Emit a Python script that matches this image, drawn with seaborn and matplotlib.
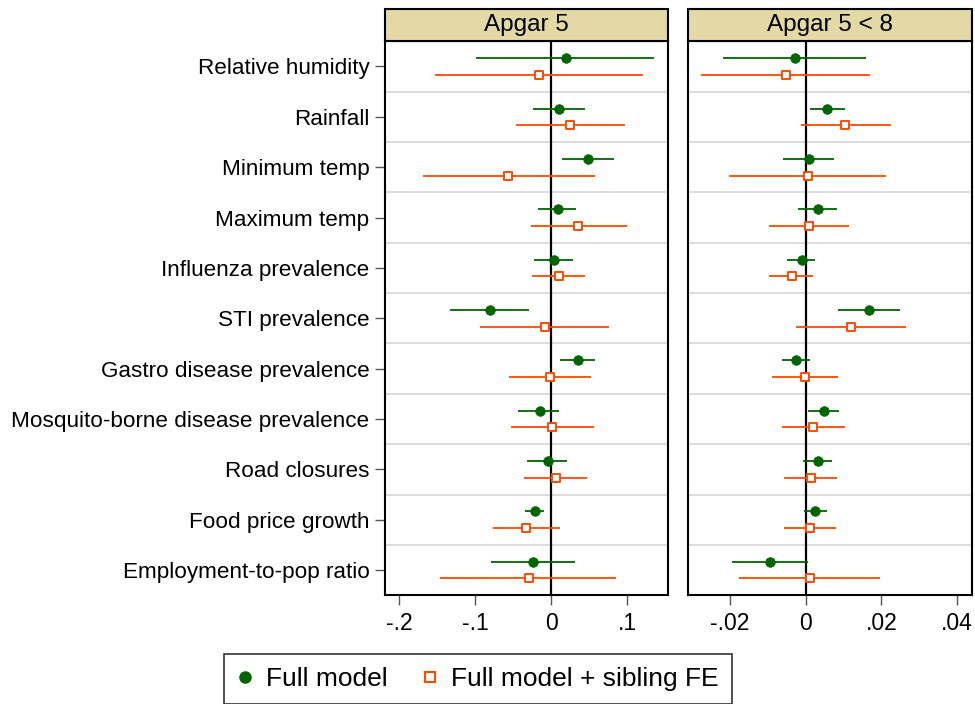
import numpy as np
import pandas as pd
import matplotlib
matplotlib.use("Agg")
import matplotlib.pyplot as plt
import seaborn as sns
from matplotlib.patches import Rectangle
from matplotlib.lines import Line2D

variables = ["Relative humidity", "Rainfall", "Minimum temp", "Maximum temp",
             "Influenza prevalence", "STI prevalence", "Gastro disease prevalence",
             "Mosquito-borne disease prevalence", "Road closures", "Food price growth",
             "Employment-to-pop ratio"]
models = ["Full model", "Full model + sibling FE"]
panels = ["Apgar 5", "Apgar 5 < 8"]

# Apgar 5
a5_full_est = [0.019, 0.0105, 0.0487, 0.0084, 0.0031, -0.080, 0.0347, -0.0153, -0.0048, -0.0219, -0.0237]
a5_full_lo = [-0.099, -0.0245, 0.0137, -0.0175, -0.0223, -0.1337, 0.011, -0.0434, -0.0316, -0.035, -0.0793]
a5_full_hi = [0.135, 0.044, 0.0825, 0.032, 0.0285, -0.0298, 0.057, 0.0097, 0.0202, -0.0096, 0.0307]
a5_sib_est = [-0.016, 0.025, -0.057, 0.0355, 0.0097, -0.0083, -0.0022, 0.0013, 0.0066, -0.0333, -0.0293]
a5_sib_lo = [-0.153, -0.046, -0.169, -0.0267, -0.0258, -0.0934, -0.0553, -0.0526, -0.0364, -0.0763, -0.1468]
a5_sib_hi = [0.120, 0.0966, 0.0575, 0.0996, 0.044, 0.0759, 0.0522, 0.0558, 0.0474, 0.011, 0.0855]

# Apgar 5 < 8
lo8_full_est = [-0.0028, 0.0056, 0.0008, 0.0033, -0.0010, 0.0168, -0.0025, 0.0048, 0.0033, 0.0026, -0.0094]
lo8_full_lo = [-0.0219, 0.0011, -0.0061, -0.0020, -0.0049, 0.0085, -0.0063, 0.0007, -0.0006, -0.0004, -0.0195]
lo8_full_hi = [0.0159, 0.0103, 0.0075, 0.0082, 0.0026, 0.0250, 0.0012, 0.0089, 0.0070, 0.0056, 0.0005]
lo8_sib_est = [-0.0053, 0.0105, 0.0005, 0.0008, -0.0037, 0.0120, -0.0002, 0.0019, 0.0015, 0.0012, 0.0012]
lo8_sib_lo = [-0.0276, -0.0013, -0.0202, -0.0097, -0.0097, -0.0026, -0.0088, -0.0063, -0.0056, -0.0058, -0.0175]
lo8_sib_hi = [0.0169, 0.0225, 0.0212, 0.0114, 0.0019, 0.0264, 0.0086, 0.0105, 0.0084, 0.0081, 0.0196]

a5_ticks = [-0.2, -0.1, 0.0, 0.1]
a5_ticklabels = ["-.2", "-.1", "0", ".1"]
lo8_ticks = [-0.02, 0.0, 0.02, 0.04]
lo8_ticklabels = ["-.02", "0", ".02", ".04"]

GREEN = "#006400"
ORANGE = "#FF4A00"
STRIP = "#E3D9A4"

rows = []
series = {
    ("Apgar 5", "Full model"): (a5_full_est, a5_full_lo, a5_full_hi),
    ("Apgar 5", "Full model + sibling FE"): (a5_sib_est, a5_sib_lo, a5_sib_hi),
    ("Apgar 5 < 8", "Full model"): (lo8_full_est, lo8_full_lo, lo8_full_hi),
    ("Apgar 5 < 8", "Full model + sibling FE"): (lo8_sib_est, lo8_sib_lo, lo8_sib_hi),
}
offsets = {"Full model": -0.165, "Full model + sibling FE": 0.165}
for (panel, model), (est, lo, hi) in series.items():
    for i, v in enumerate(variables):
        rows.append(dict(panel=panel, model=model, variable=v, est=est[i], lo=lo[i],
                         hi=hi[i], pos=i + offsets[model]))
df = pd.DataFrame(rows)

sns.set_theme(style="white")
plt.rcParams["font.family"] = ["Liberation Sans", "DejaVu Sans"]
plt.rcParams["text.color"] = "black"
plt.rcParams["xtick.labelcolor"] = "black"
plt.rcParams["ytick.labelcolor"] = "black"

W, H = 975, 704
fig = plt.figure(figsize=(W / 100, H / 100), dpi=100)
top_px, bot_px = 41.3, 595.3
axh = (bot_px - top_px) / H
ax1 = fig.add_axes([384.7 / W, 1 - bot_px / H, (668 - 384.7) / W, axh])
ax2 = fig.add_axes([688 / W, 1 - bot_px / H, (971.7 - 688) / W, axh])

setup = [(ax1, "Apgar 5", (-0.219, 0.1535), a5_ticks, a5_ticklabels),
         (ax2, "Apgar 5 < 8", (-0.0311, 0.0439), lo8_ticks, lo8_ticklabels)]

for ax, panel, xlim, ticks, tlabels in setup:
    sub = df[df.panel == panel]
    for k in range(len(variables) - 1):
        ax.axhline(k + 0.5, color="#dcdcdc", lw=1.4, zorder=0)
    ax.axvline(0, color="black", lw=1.6, zorder=1)
    full = sub[sub.model == "Full model"]
    sib = sub[sub.model == "Full model + sibling FE"]
    ax.hlines(full.pos, full.lo, full.hi, color=GREEN, lw=1.3, zorder=2)
    ax.hlines(sib.pos, sib.lo, sib.hi, color=ORANGE, lw=1.3, zorder=2)
    sns.scatterplot(data=full, x="est", y="pos", ax=ax, marker="o", s=48,
                    color=GREEN, edgecolor=GREEN, linewidth=0.5, zorder=3, legend=False)
    sns.scatterplot(data=sib, x="est", y="pos", ax=ax, marker="s", s=30,
                    color="white", edgecolor=ORANGE, linewidth=1.4, zorder=3, legend=False)
    ax.set_xlim(*xlim)
    ax.set_ylim(len(variables) - 0.5, -0.5)
    ax.set_xticks(ticks)
    ax.set_xticklabels(tlabels)
    ax.set_xlabel("")
    ax.set_ylabel("")
    for s in ax.spines.values():
        s.set_color("black")
        s.set_linewidth(1.5)
    ax.tick_params(axis="x", direction="out", length=7, width=1, color="#555555",
                   labelsize=16.5, labelcolor="black", pad=5, bottom=True)
    # strip
    sh = 32 / (bot_px - top_px)
    ax.add_patch(Rectangle((0, 1), 1, sh, transform=ax.transAxes, clip_on=False,
                           facecolor=STRIP, edgecolor="black", lw=1.5, zorder=5))
    ax.text(0.5, 1 + sh / 2, panel, transform=ax.transAxes, ha="center", va="center",
            fontsize=17.5, color="black", zorder=6)

ax1.set_yticks(range(len(variables)))
ax1.set_yticklabels(variables)
ax1.tick_params(axis="y", direction="out", length=7, width=1, color="#555555",
                labelsize=16.2, labelcolor="black", pad=4, left=True)
ax2.set_yticks(range(len(variables)))
ax2.tick_params(axis="y", left=False, labelleft=False)

handles = [Line2D([], [], marker="o", color=GREEN, ls="", markersize=8),
           Line2D([], [], marker="s", markerfacecolor="white", markeredgecolor=ORANGE,
                  markeredgewidth=1.5, ls="", markersize=6.5)]
leg = fig.legend(handles, models, loc="center", bbox_to_anchor=(478 / W, 1 - 679 / H),
                 ncol=2, frameon=True, fancybox=False, edgecolor="black", fontsize=19,
                 handletextpad=0.5, columnspacing=1.3, borderpad=0.5, handlelength=0.6,
                 labelcolor="black")
leg.get_frame().set_linewidth(1.2)

fig.savefig("out.png", dpi=100, facecolor="white")
